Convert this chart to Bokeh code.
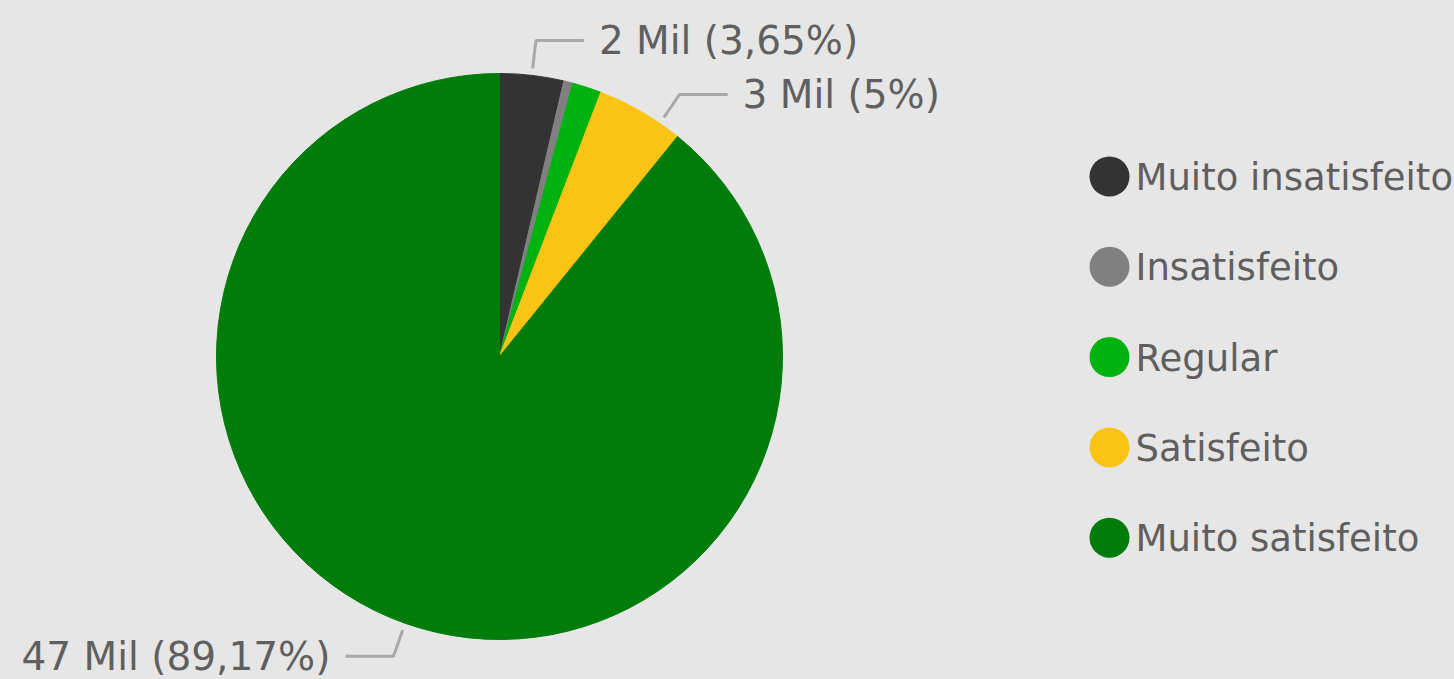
import math
from bokeh.plotting import figure
from bokeh.models import Range1d
from bokeh.core.properties import value
from bokeh.embed import file_html
from bokeh.resources import INLINE

# ---- data ----
categories = ["Muito insatisfeito", "Insatisfeito", "Regular", "Satisfeito", "Muito satisfeito"]
counts = [1925, 274, 875, 2637, 47030]
colors = ["#333333", "#808080", "#00b20f", "#fbc414", "#007c0a"]
show_label = [True, False, False, True, True]
label_angle_override = [None, None, None, 34.5, None]  # degrees clockwise from top (layout)

# ---- layout ----
W, H = 1454, 679
BG = "#e6e6e6"
TXT = "#5f5f5f"
FONT = "DejaVu Sans"
cx, cy_img, R = 499, 356, 283


def Y(y_img):
    return H - y_img


p = figure(width=W, height=H, output_backend="svg", toolbar_location=None,
           x_range=Range1d(0, W), y_range=Range1d(0, H),
           min_border=0, background_fill_color=BG, border_fill_color=BG,
           outline_line_color=None)
p.axis.visible = False
p.grid.visible = False

total = sum(counts)
fracs = [c / total for c in counts]
cum = 0.0
starts, ends, mids = [], [], []
for f in fracs:
    starts.append(math.pi / 2 - 2 * math.pi * cum)
    mids.append(360 * (cum + f / 2))
    cum += f
    ends.append(math.pi / 2 - 2 * math.pi * cum)

p.wedge(x=cx, y=Y(cy_img), radius=R, start_angle=starts, end_angle=ends,
        direction="clock", fill_color=colors, line_color=colors, line_width=1)


def fmt_pct(v):
    s = f"{v:.2f}".rstrip("0").rstrip(".")
    return s.replace(".", ",") + "%"


for i, cat in enumerate(categories):
    if not show_label[i]:
        continue
    ang = label_angle_override[i] if label_angle_override[i] is not None else mids[i]
    a = math.radians(ang)
    sx, sy = math.sin(a), math.cos(a)
    x0, y0 = cx + (R + 7) * sx, Y(cy_img) + (R + 7) * sy
    x1, y1 = cx + (R + 35) * sx, Y(cy_img) + (R + 35) * sy
    side = 1 if sx >= 0 else -1
    x2 = x1 + side * 48
    p.line([x0, x1, x2], [y0, y1, y1], line_color="#a9a9a9", line_width=3)
    lbl = f"{round(counts[i] / 1000)} Mil ({fmt_pct(100 * fracs[i])})"
    p.text(x=[x2 + side * 15], y=[y1], text=[lbl], text_font=value(FONT),
           text_font_size="39px", text_color=TXT,
           text_align="left" if side > 0 else "right", text_baseline="middle")

# legend
lx, ly0, lstep = 1109, 176, 90.3
for i, cat in enumerate(categories):
    yy = Y(ly0 + i * lstep)
    p.scatter(x=[lx], y=[yy], size=40, marker="circle", fill_color=colors[i], line_color=None)
    p.text(x=[1135], y=[yy - 1], text=[cat], text_font=value(FONT), text_font_size="37px",
           text_color=TXT, text_align="left", text_baseline="middle")

html = file_html(p, INLINE)
html = html.replace("</head>", "<style>html,body{background:#e6e6e6;}</style></head>", 1)
open("out.html", "w").write(html)
